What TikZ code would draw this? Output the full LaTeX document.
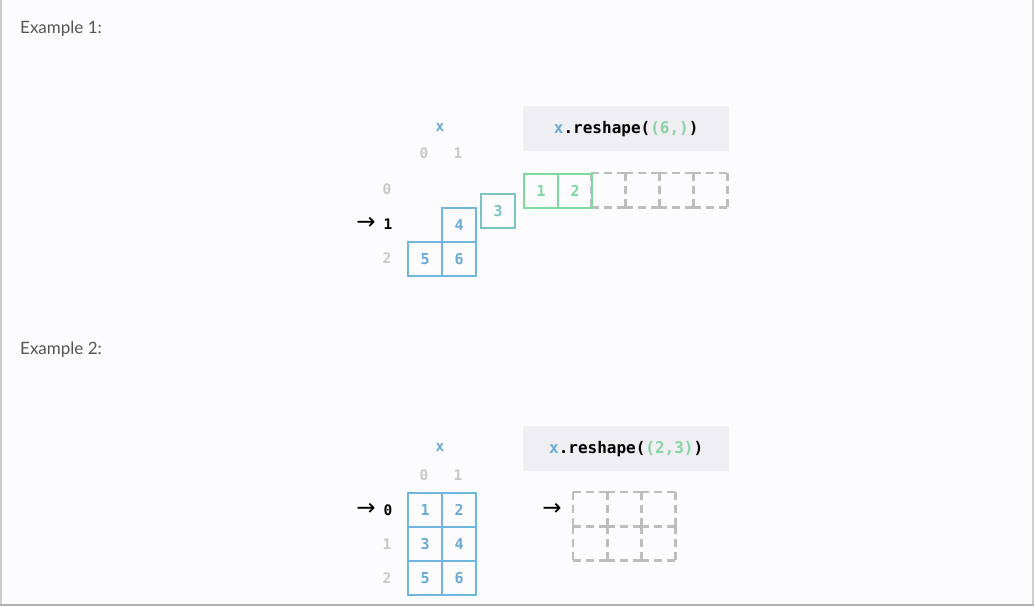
\documentclass[tikz,border=0pt]{standalone}
\usepackage{fontspec}
\setmainfont{Lato}
\newfontfamily\monof{DejaVu Sans Mono}
\newfontfamily\arrf{DejaVu Sans}
\definecolor{bg}{HTML}{FCFBFD}
\definecolor{cblue}{HTML}{6FB5E0}
\definecolor{tblue}{HTML}{6AAAD6}
\definecolor{cteal}{HTML}{78C3C6}
\definecolor{cgreen}{HTML}{7DD99E}
\definecolor{tgreen}{HTML}{86D3A3}
\definecolor{dgray}{HTML}{BDBDBD}
\definecolor{igray}{HTML}{C8C8C8}
\definecolor{codebg}{HTML}{EEEEF3}
\definecolor{lbl}{HTML}{555559}
\tikzset{
  cell/.style={draw=#1, line width=2.4pt, minimum width=34pt, minimum height=34pt, inner sep=0pt, anchor=north west, font=\monof\bfseries\fontsize{15}{15}\selectfont},
  dcell/.style={minimum width=34pt, minimum height=34pt, inner sep=0pt, anchor=north west},
  dline/.style={draw=dgray, line width=2.2pt, dash pattern=on 8pt off 5pt},
  idx/.style={font=\monof\bfseries\fontsize{14.5}{14.5}\selectfont, text=igray, inner sep=0pt},
  cur/.style={font=\monof\bfseries\fontsize{14.5}{14.5}\selectfont, text=black, inner sep=0pt},
  arr/.style={font=\arrf\fontsize{23}{23}\selectfont, text=black, inner sep=0pt},
  codebox/.style={fill=codebg, minimum width=206pt, minimum height=45pt, inner sep=0pt, anchor=north west, font=\monof\bfseries\fontsize{16}{16}\selectfont},
  ex/.style={font=\fontsize{17}{17}\selectfont, text=lbl, anchor=west, inner sep=0pt},
}
\newcommand{\dashcell}[1]{%
  \draw[dline] (#1.north west) -- (#1.north east) (#1.north east) -- (#1.south east)
    (#1.north west) -- (#1.south west) (#1.south west) -- (#1.south east);}
\begin{document}
\begin{tikzpicture}[x=1pt,y=-1pt]
\fill[bg] (0,0) rectangle (1034,606);
\useasboundingbox (0,0) rectangle (1034,606);
\draw[line width=2pt, draw=gray!40] (1,0) -- (1,606);
\draw[line width=2pt, draw=gray!40] (1033,0) -- (1033,606);
\draw[line width=2pt, draw=gray!60] (0,605) -- (1034,605);

% Example 1
\node[ex] (ex1) at (20,29) {Example 1:};
\node[codebox] (code1) at (523,106) {\textcolor{tblue}{x}.reshape(\textcolor{tgreen}{(6,)})};
\node[cur, text=tblue] (xa) at (440,128) {x};
\node[idx] (c0a) at (424,153) {0};
\node[idx] (c1a) at (458,153) {1};
\node[idx] (r0a) at (387,189) {0};
\node[cur] (r1a) at (388,224) {1};
\node[idx] (r2a) at (387,258) {2};
\node[arr] (arra) at (366,223) {→};
\node[dcell] (d1) at (591,173) {};
\node[dcell] (d2) at (625,173) {};
\node[dcell] (d3) at (659,173) {};
\node[dcell] (d4) at (693,173) {};
\dashcell{d1}\dashcell{d2}\dashcell{d3}\dashcell{d4}
\node[cell=cblue, text=tblue] (a4) at (441,207) {4};
\node[cell=cblue, text=tblue] (a5) at (407,241) {5};
\node[cell=cblue, text=tblue] (a6) at (441,241) {6};
\node[cell=cteal, text=cteal] (a3) at (480,193) {3};
\node[cell=cgreen, text=cgreen] (a1) at (523,173) {1};
\node[cell=cgreen, text=cgreen] (a2) at (557,173) {2};

% Example 2
\node[ex] (ex2) at (20,350) {Example 2:};
\node[codebox] (code2) at (523,426) {\textcolor{tblue}{x}.reshape(\textcolor{tgreen}{(2,3)})};
\node[cur, text=tblue] (xb) at (440,448) {x};
\node[idx] (c0b) at (424,475) {0};
\node[idx] (c1b) at (458,475) {1};
\node[cur] (r0b) at (388,510) {0};
\node[idx] (r1b) at (387,544) {1};
\node[idx] (r2b) at (387,578) {2};
\node[arr] (arrb) at (366,509) {→};
\node[arr] (arrc) at (552,509) {→};
\node[cell=cblue, text=tblue] (b1) at (407,492) {1};
\node[cell=cblue, text=tblue] (b2) at (441,492) {2};
\node[cell=cblue, text=tblue] (b3) at (407,526) {3};
\node[cell=cblue, text=tblue] (b4) at (441,526) {4};
\node[cell=cblue, text=tblue] (b5) at (407,560) {5};
\node[cell=cblue, text=tblue] (b6) at (441,560) {6};
\node[dcell] (e1) at (573,492) {};
\node[dcell] (e2) at (607,492) {};
\node[dcell] (e3) at (641,492) {};
\node[dcell] (e4) at (573,526) {};
\node[dcell] (e5) at (607,526) {};
\node[dcell] (e6) at (641,526) {};
\dashcell{e1}\dashcell{e2}\dashcell{e3}\dashcell{e4}\dashcell{e5}\dashcell{e6}
\end{tikzpicture}
\end{document}
